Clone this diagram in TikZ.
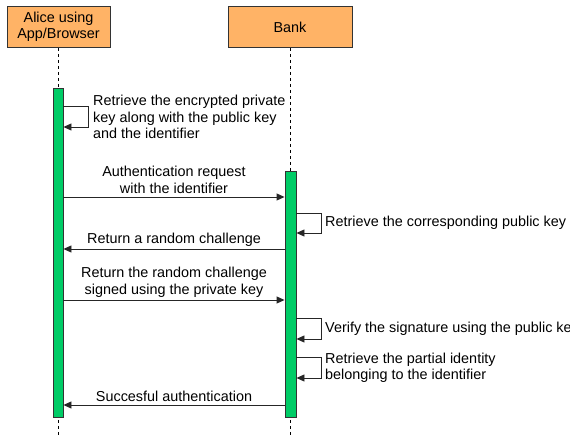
\documentclass[tikz,border=0pt]{standalone}
\usepackage{fontspec}
\setmainfont{Liberation Sans}
\usetikzlibrary{arrows.meta}
\definecolor{actorfill}{RGB}{255,179,102}
\definecolor{barfill}{RGB}{0,204,102}
\begin{document}
\begin{tikzpicture}[x=1pt,y=-1pt,
  font=\fontsize{14.4}{16.5}\selectfont,
  actor/.style={draw=black!80, fill=actorfill, minimum height=41pt, inner sep=0pt, align=center, line width=0.9pt},
  lifeline/.style={dash pattern=on 3pt off 3pt, line width=0.8pt},
  bar/.style={draw=black!80, fill=barfill, inner sep=0pt, line width=0.9pt},
  msg/.style={-{Triangle[length=8pt,width=7pt]}, line width=0.9pt, draw=black!85},
  lbl/.style={inner sep=0pt, align=center},
  note/.style={inner sep=0pt, align=left, anchor=west},
]
\useasboundingbox (0,0) rectangle (570,439);

% participants
\node[actor, minimum width=103pt] (alice) at (58.5,27) {Alice using\\App/Browser};
\node[actor, minimum width=124pt] (bank) at (290,27) {Bank};

% lifelines
\coordinate (aliceEnd) at (58,437);
\coordinate (bankEnd) at (290,437);
\draw[lifeline] (alice.south -| aliceEnd) -- (aliceEnd);
\draw[lifeline] (bank.south -| bankEnd) -- (bankEnd);

% activation bars
\node[bar, minimum width=10pt, minimum height=329pt] (abar) at (58,252.5) {};
\node[bar, minimum width=11pt, minimum height=246pt] (bbar) at (290.5,294) {};

% Alice: retrieve key material
\draw[msg] (abar.east |- 0,106) -- ++(25,0) -- ++(0,21) -- (abar.east |- 0,127);
\node[note] (n1) at (93,117) {Retrieve the encrypted private\\key along with the public key\\and the identifier};

% authentication request
\draw[msg] (abar.east |- 0,197) -- (bbar.west |- 0,197);
\node[lbl] (m1) at (174,180) {Authentication request\\with the identifier};

% bank: retrieve public key
\draw[msg] (bbar.east |- 0,213) -- ++(25,0) -- ++(0,20) -- (bbar.east |- 0,233);
\node[note] (n2) at (325,223) {Retrieve the corresponding public key};

% challenge
\draw[msg] (bbar.west |- 0,249) -- (abar.east |- 0,249);
\node[lbl] (m2) at (174,240) {Return a random challenge};

% signed challenge
\draw[msg] (abar.east |- 0,300) -- (bbar.west |- 0,300);
\node[lbl] (m3) at (174,282.5) {Return the random challenge\\signed using the private key};

% bank: verify (runs past the right edge of the page)
\draw[msg] (bbar.east |- 0,318) -- ++(25,0) -- ++(0,21) -- (bbar.east |- 0,339);
\node[note] (n3) at (325,329) {Verify the signature using the public key};

% bank: partial identity
\draw[msg] (bbar.east |- 0,357) -- ++(25,0) -- ++(0,21) -- (bbar.east |- 0,378);
\node[note] (n4) at (325,368) {Retrieve the partial identity\\belonging to the identifier};

% success
\draw[msg] (bbar.west |- 0,405) -- (abar.east |- 0,405);
\node[lbl] (m4) at (174,396) {Succesful authentication};
\end{tikzpicture}
\end{document}
